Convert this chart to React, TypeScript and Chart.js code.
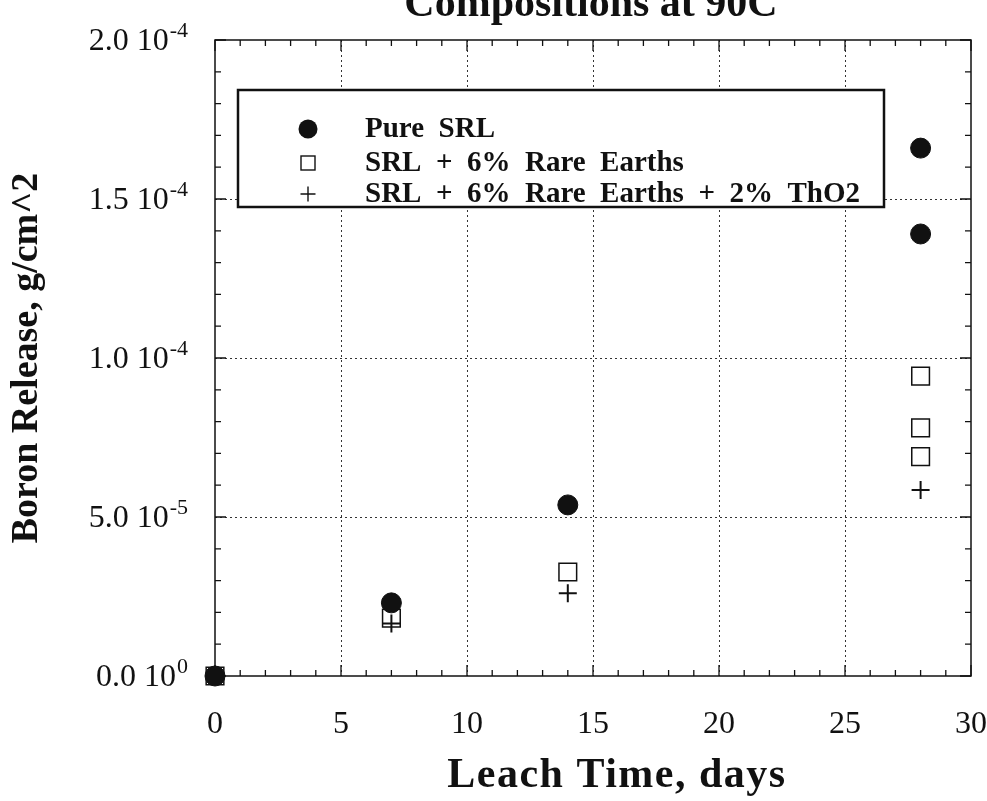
import React, { useEffect, useRef } from 'react';
import { Chart, registerables } from 'chart.js';

Chart.register(...registerables);

// Leach time (days) and boron release (g/cm^2) for each glass composition
const pureSrlDays = [0, 7, 14, 28, 28];
const pureSrlBoron = [0, 2.3e-5, 5.38e-5, 1.66e-4, 1.39e-4];

const rareEarthDays = [0, 7, 14, 28, 28, 28];
const rareEarthBoron = [0, 1.82e-5, 3.27e-5, 9.43e-5, 7.8e-5, 6.9e-5];

const thoriaDays = [0, 7, 14, 28];
const thoriaBoron = [0, 1.65e-5, 2.6e-5, 5.85e-5];

const seriesLabels = [
  'Pure  SRL',
  'SRL  +  6%  Rare  Earths',
  'SRL  +  6%  Rare  Earths  +  2%  ThO2',
];

const chartTitle = 'Compositions at 90C';
const xAxisTitle = 'Leach Time, days';
const yAxisTitle = 'Boron Release, g/cm^2';

const xTickValues = [0, 5, 10, 15, 20, 25, 30];
const xTickLabels = ['0', '5', '10', '15', '20', '25', '30'];
const yTickValues = [0, 5e-5, 1e-4, 1.5e-4, 2e-4];
const yTickMantissas = ['0.0', '5.0', '1.0', '1.5', '2.0'];
const yTickExponents = ['0', '-5', '-4', '-4', '-4'];

const SERIF = '"Liberation Serif", "Times New Roman", serif';
const INK = '#111';

const toPoints = (xs: number[], ys: number[]) => xs.map((x, i) => ({ x, y: ys[i] }));

// Frame with inward major/minor ticks on all four sides
const framePlugin = {
  id: 'frameTicks',
  beforeDatasetsDraw(chart: any) {
    const { ctx, chartArea: a, scales } = chart;
    const xs = scales.x;
    const ys = scales.y;
    ctx.save();
    ctx.strokeStyle = INK;
    ctx.lineWidth = 1.5;
    ctx.strokeRect(a.left, a.top, a.right - a.left, a.bottom - a.top);
    ctx.lineWidth = 1.3;
    ctx.beginPath();
    for (let d = 0; d <= 30; d += 1) {
      const px = xs.getPixelForValue(d);
      const len = d % 5 === 0 ? 11 : 6;
      ctx.moveTo(px, a.bottom);
      ctx.lineTo(px, a.bottom - len);
      ctx.moveTo(px, a.top);
      ctx.lineTo(px, a.top + len);
    }
    for (let k = 0; k <= 20; k += 1) {
      const py = ys.getPixelForValue(k * 1e-5);
      const len = k % 5 === 0 ? 11 : 6;
      ctx.moveTo(a.left, py);
      ctx.lineTo(a.left + len, py);
      ctx.moveTo(a.right, py);
      ctx.lineTo(a.right - len, py);
    }
    ctx.stroke();
    ctx.restore();
  },
};

// Y tick labels written as mantissa + power of ten with a raised exponent
const yLabelPlugin = {
  id: 'yPowerLabels',
  afterDraw(chart: any) {
    const { ctx, chartArea: a, scales } = chart;
    const ys = scales.y;
    ctx.save();
    ctx.fillStyle = INK;
    ctx.textBaseline = 'alphabetic';
    const rightEdge = a.left - 27;
    yTickValues.forEach((v, i) => {
      const py = ys.getPixelForValue(v);
      ctx.font = `22px ${SERIF}`;
      ctx.textAlign = 'right';
      const exp = yTickExponents[i];
      const expW = ctx.measureText(exp).width;
      ctx.fillText(exp, rightEdge, py - 3);
      ctx.font = `32px ${SERIF}`;
      ctx.fillText(`${yTickMantissas[i]} 10`, rightEdge - expW - 1, py + 10);
    });
    ctx.restore();
  },
};

// Chart title (top line cut by the page edge) and x-axis title
const textPlugin = {
  id: 'titles',
  afterDraw(chart: any) {
    const { ctx, chartArea: a } = chart;
    ctx.save();
    ctx.fillStyle = INK;
    ctx.textAlign = 'center';
    ctx.textBaseline = 'alphabetic';
    ctx.font = `bold 42px ${SERIF}`;
    ctx.fillText(chartTitle, (a.left + a.right) / 2 - 2, 16);
    ctx.font = `bold 42px ${SERIF}`;
    (ctx as any).letterSpacing = '1.5px';
    ctx.fillText(xAxisTitle, (a.left + a.right) / 2 + 24, 787);
    ctx.restore();
  },
};

// Boxed legend inside the plot area
const legendPlugin = {
  id: 'boxLegend',
  afterDatasetsDraw(chart: any) {
    const { ctx, chartArea: a } = chart;
    const left = a.left + 23;
    const top = a.top + 50;
    const w = 646;
    const h = 117;
    ctx.save();
    ctx.fillStyle = '#fff';
    ctx.fillRect(left, top, w, h);
    ctx.strokeStyle = INK;
    ctx.lineWidth = 2.5;
    ctx.strokeRect(left, top, w, h);
    const rows = [top + 39, top + 73, top + 104];
    const mx = left + 70;
    ctx.lineWidth = 1.4;
    // filled circle
    ctx.fillStyle = INK;
    ctx.beginPath();
    ctx.arc(mx, rows[0], 9.5, 0, Math.PI * 2);
    ctx.fill();
    // open square
    ctx.strokeRect(mx - 7, rows[1] - 7, 14, 14);
    // plus
    ctx.beginPath();
    ctx.moveTo(mx - 7.5, rows[2]);
    ctx.lineTo(mx + 7.5, rows[2]);
    ctx.moveTo(mx, rows[2] - 7.5);
    ctx.lineTo(mx, rows[2] + 7.5);
    ctx.stroke();
    ctx.font = `bold 29px ${SERIF}`;
    ctx.textAlign = 'left';
    ctx.textBaseline = 'middle';
    seriesLabels.forEach((t, i) => ctx.fillText(t, left + 127, rows[i] + 1));
    ctx.restore();
  },
};

export default function App() {
  const canvasRef = useRef<HTMLCanvasElement | null>(null);

  useEffect(() => {
    const canvas = canvasRef.current;
    if (!canvas) return;
    const isEdge = (v: number, lo: number, hi: number) =>
      Math.abs(v - lo) < 1e-12 || Math.abs(v - hi) < 1e-12;

    const chart = new Chart(canvas, {
      type: 'scatter',
      data: {
        datasets: [
          {
            label: seriesLabels[0],
            data: toPoints(pureSrlDays, pureSrlBoron),
            pointStyle: 'circle',
            pointRadius: 10,
            backgroundColor: INK,
            borderColor: INK,
            borderWidth: 1,
            clip: false,
          },
          {
            label: seriesLabels[1],
            data: toPoints(rareEarthDays, rareEarthBoron),
            pointStyle: 'rect',
            pointRadius: 12.5,
            backgroundColor: 'rgba(255,255,255,0)',
            borderColor: INK,
            borderWidth: 1.5,
            clip: false,
          },
          {
            label: seriesLabels[2],
            data: toPoints(thoriaDays, thoriaBoron),
            pointStyle: 'cross',
            pointRadius: 9,
            backgroundColor: INK,
            borderColor: INK,
            borderWidth: 2,
            clip: false,
          },
        ],
      },
      options: {
        responsive: false,
        animation: false,
        devicePixelRatio: 1,
        layout: { padding: { top: 40, right: 16, left: 0, bottom: 0 } },
        plugins: {
          legend: { display: false },
          tooltip: { enabled: false },
          title: { display: false },
        },
        scales: {
          x: {
            type: 'linear',
            position: 'bottom',
            min: 0,
            max: 30,
            afterFit: (s: any) => {
              s.height = 125;
              s.paddingLeft = 0;
              s.paddingRight = 0;
            },
            afterBuildTicks: (s: any) => {
              s.ticks = xTickValues.map((value) => ({ value }));
            },
            ticks: {
              font: { family: SERIF, size: 32 },
              color: INK,
              padding: 29,
              callback: (v: any) => xTickLabels[xTickValues.indexOf(Number(v))] ?? '',
            },
            grid: {
              drawTicks: false,
              lineWidth: 1,
              color: (c: any) => (isEdge(c.tick?.value ?? 0, 0, 30) ? 'rgba(0,0,0,0)' : '#333'),
            },
            border: { display: false, dash: [2, 3] },
          },
          y: {
            type: 'linear',
            min: 0,
            max: 2e-4,
            afterFit: (s: any) => {
              s.width = 215;
              s.paddingTop = 0;
              s.paddingBottom = 0;
            },
            afterBuildTicks: (s: any) => {
              s.ticks = yTickValues.map((value) => ({ value }));
            },
            ticks: {
              callback: () => '',
            },
            grid: {
              drawTicks: false,
              lineWidth: 1,
              color: (c: any) => (isEdge(c.tick?.value ?? 0, 0, 2e-4) ? 'rgba(0,0,0,0)' : '#333'),
            },
            border: { display: false, dash: [2, 3] },
            title: {
              display: true,
              text: yAxisTitle,
              color: INK,
              font: { family: SERIF, size: 38, weight: 'bold' },
              padding: { top: 4, bottom: 0 },
            },
          },
        },
      },
      plugins: [framePlugin, yLabelPlugin, textPlugin, legendPlugin],
    } as any);

    return () => chart.destroy();
  }, []);

  return (
    <div
      style={{
        position: 'fixed',
        left: 0,
        top: 0,
        width: 987,
        height: 801,
        overflow: 'hidden',
        background: '#fff',
      }}
    >
      <canvas ref={canvasRef} width={987} height={801} style={{ display: 'block' }} />
    </div>
  );
}
